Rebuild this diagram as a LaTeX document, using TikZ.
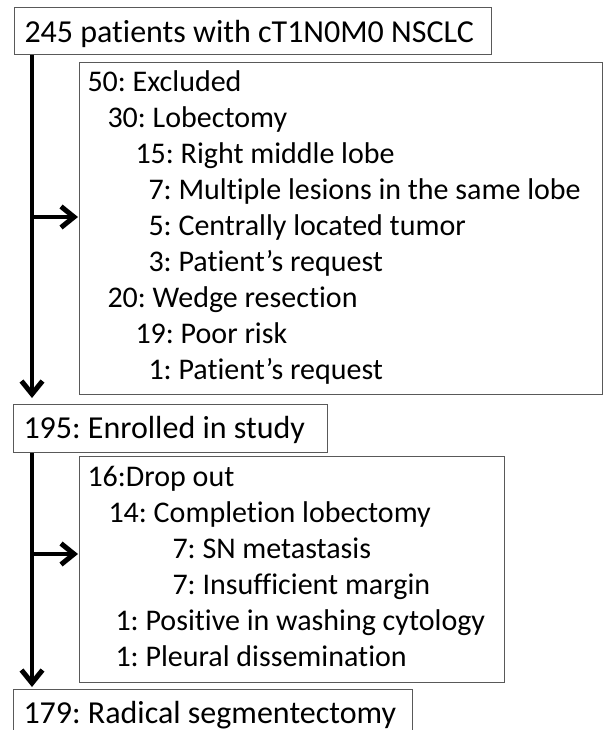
\documentclass[tikz,border=0pt]{standalone}
\usepackage{fontspec}
\setmainfont{Carlito}[Ligatures=NoCommon]
\usetikzlibrary{arrows.meta}

\newcommand{\indby}[1]{\hspace*{#1pt}}
\frenchspacing

\begin{document}
\begin{tikzpicture}[x=1pt, y=1pt,
    stage style/.style={draw=black!65, line width=1pt, anchor=north west, align=flush left, inner xsep=10pt, inner ysep=0pt, text height=34pt, text depth=14pt, font=\fontsize{32}{38}\selectfont},
    list style/.style={draw=black!65, line width=1pt, anchor=north west, align=flush left, inner xsep=8pt, font=\fontsize{30}{36}\selectfont},
    flow/.style={line width=3.5pt, -{Straight Barb[length=13pt, width=21pt, line width=5pt]}}
]
\useasboundingbox (0,0) rectangle (602,-730);

\node[stage style, text width=457pt, text height=35pt, text depth=12pt] (all) at (14,-7) {245 patients with cT1N0M0 NSCLC};
\node[list style, text width=507pt, inner ysep=4pt] (excl) at (79,-62) {\strut 50: Excluded\\
  \indby{20}30: Lobectomy\\
  \indby{48}15: Right middle lobe\\
  \indby{61}7: Multiple lesions in the same lobe\\
  \indby{61}5: Centrally located tumor\\
  \indby{61}3: Patient’s request\\
  \indby{20}20: Wedge resection\\
  \indby{48}19: Poor risk\\
  \indby{61}1: Patient’s request\strut};
\node[stage style, text width=294pt] (enrolled) at (13,-404) {195: Enrolled in study};
\node[list style, text width=409pt, inner ysep=5pt] (drop) at (79,-456) {\strut 16:Drop out\\
  \indby{21}14: Completion lobectomy\\
  \indby{85}7: SN metastasis\\
  \indby{85}7: Insufficient margin\\
  \indby{28}1: Positive in washing cytology\\
  \indby{28}1: Pleural dissemination\strut};
\node[stage style, text width=379pt] (final) at (13,-689) {179: Radical segmentectomy};

\coordinate (split1) at (32,-217);
\coordinate (split2) at (32,-554);

\draw[flow, shorten >=6pt] (split1 |- all.south) -- (split1 |- enrolled.north);
\draw[flow, shorten >=1pt] (split1) -- (split1 -| excl.west);
\draw[flow, shorten >=2pt] (split2 |- enrolled.south) -- (split2 |- final.north);
\draw[flow, shorten >=1pt] (split2) -- (split2 -| drop.west);
\end{tikzpicture}
\end{document}
